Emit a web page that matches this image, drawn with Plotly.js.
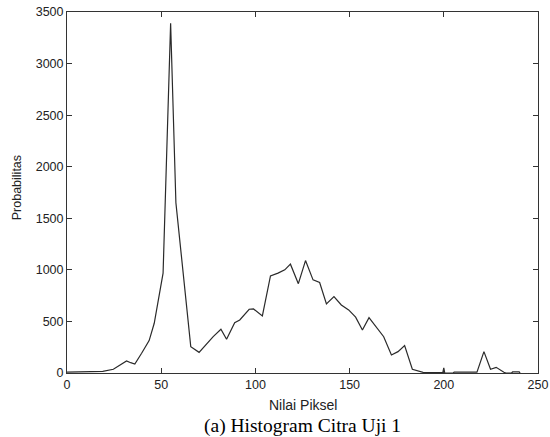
<!DOCTYPE html>
<html>
<head>
<meta charset="utf-8">
<script src="https://cdn.plot.ly/plotly-3.0.1.min.js"></script>
<style>html,body{margin:0;padding:0;background:#fff;}#chart{width:550px;height:437px;}</style>
</head>
<body>
<div id="chart"></div>
<script>
// Pixel intensity values (x) and histogram counts (y)
var nilaiPiksel = [0, 5, 10, 15, 19, 24.6, 28, 31.6, 33.8, 36, 39.6, 43.6, 46.3, 51, 55, 57.8, 65.7, 70.1,
  77.6, 81.7, 84.7, 89, 91.7, 96.7, 99, 103.7, 108, 112, 115.6, 118.6, 122.8, 126.6, 130.6, 134.1,
  137.7, 141.7, 145.6, 149.5, 153.2, 156.8, 160.3, 164.2, 168.1, 172.2, 175.7, 179.2, 183.3, 189,
  199.5, 200, 200.5, 205, 205.5, 217.6, 221.3, 224.8, 227.8, 231.9, 233, 236, 236.5, 240, 240.5];
var probabilitas = [8, 8, 8, 10, 15, 36, 78, 116, 100, 87, 191, 314, 482, 968, 3390, 1650, 255, 200,
  352, 424, 327, 488, 514, 618, 621, 553, 942, 968, 1000, 1055, 866, 1090, 903, 877,
  670, 741, 660, 612, 541, 417, 537, 444, 352, 175, 207, 265, 36, 7,
  5, 50, 0, 0, 8, 8, 207, 36, 55, 7, 0, 0, 10, 10, 0];
var xTicks = [0, 50, 100, 150, 200, 250];
var yTicks = [0, 500, 1000, 1500, 2000, 2500, 3000, 3500];
var xTitle = 'Nilai Piksel';
var yTitle = 'Probabilitas';
var caption = '(a) Histogram Citra Uji 1';

var trace = {
  x: nilaiPiksel, y: probabilitas, type: 'scatter', mode: 'lines',
  line: {color: '#2a2a2a', width: 1.2}, hoverinfo: 'skip'
};

var axisCommon = {
  showline: true, linecolor: '#333', linewidth: 1, mirror: 'ticks',
  ticks: 'inside', ticklen: 5, tickwidth: 1, tickcolor: '#333',
  showgrid: false, zeroline: false, fixedrange: true,
  tickfont: {family: 'Liberation Sans, Arial, sans-serif', size: 12.5, color: '#222'}
};

var layout = {
  width: 550, height: 437,
  margin: {l: 67, r: 12, t: 12, b: 64, autoexpand: false},
  paper_bgcolor: '#fff', plot_bgcolor: '#fff',
  showlegend: false,
  xaxis: Object.assign({}, axisCommon, {range: [0, 250], tickvals: xTicks, ticktext: xTicks.map(String)}),
  yaxis: Object.assign({}, axisCommon, {range: [0, 3500], tickvals: yTicks, ticktext: yTicks.map(String)}),
  annotations: [
    {text: xTitle, xref: 'paper', yref: 'paper', x: 0.5, y: -0.0886, xanchor: 'center', yanchor: 'middle',
     showarrow: false, font: {family: 'Liberation Sans, Arial, sans-serif', size: 14, color: '#222'}},
    {text: yTitle, xref: 'paper', yref: 'paper', x: -0.106, y: 0.512, xanchor: 'center', yanchor: 'middle',
     textangle: -90, showarrow: false, font: {family: 'Liberation Sans, Arial, sans-serif', size: 12.5, color: '#222'}},
    {text: caption, xref: 'paper', yref: 'paper', x: 0.5, y: -0.147, xanchor: 'center', yanchor: 'middle',
     showarrow: false, font: {family: 'Liberation Serif, Times New Roman, serif', size: 19.5, color: '#000'}}
  ]
};

Plotly.newPlot('chart', [trace], layout, {staticPlot: true, displayModeBar: false});
</script>
</body>
</html>
